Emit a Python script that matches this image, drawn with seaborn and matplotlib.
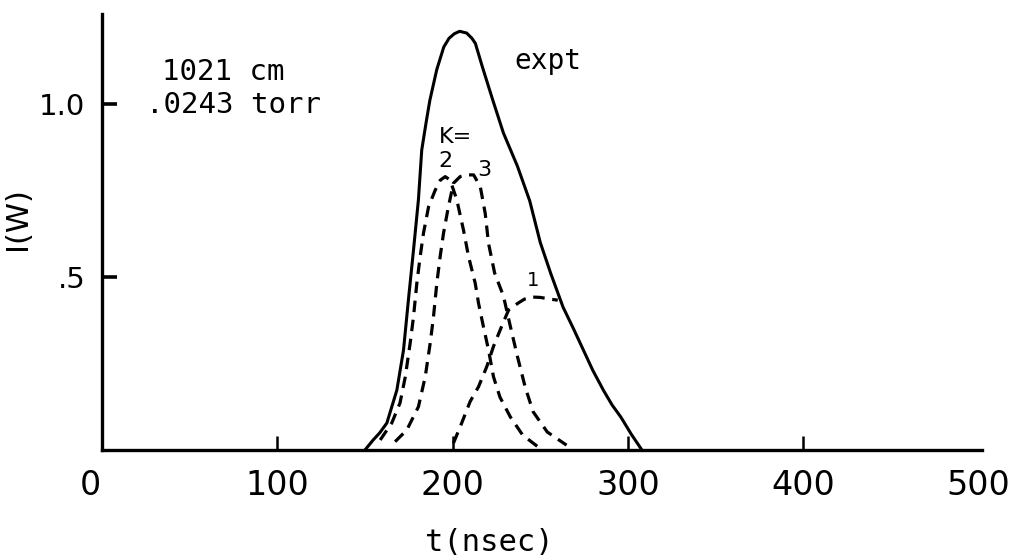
import numpy as np
import pandas as pd
import matplotlib
matplotlib.use("Agg")
import matplotlib.pyplot as plt
import matplotlib.transforms as mtransforms
import seaborn as sns

# ---- data ----
expt_t = [150, 154.7, 158.5, 162.5, 168.2, 172, 174.8, 177.7, 180.5, 182.4, 185,
          187, 191, 195, 198, 201, 204, 208, 211, 213, 217, 223, 229, 237, 244,
          250, 256, 263, 269, 274.5, 280, 286, 291, 296, 302, 308]
expt_I = [0.0, 0.029, 0.05, 0.078, 0.173, 0.289, 0.434, 0.578, 0.723, 0.867,
          0.95, 1.01, 1.10, 1.165, 1.19, 1.203, 1.21, 1.205, 1.19, 1.175, 1.107,
          1.01, 0.916, 0.82, 0.72, 0.60, 0.51, 0.413, 0.35, 0.29, 0.23, 0.173,
          0.13, 0.095, 0.045, 0.0]

k2_t = [158.7, 165.3, 170, 173, 175.8, 177.7, 179.6, 181.5, 183.4, 186.3, 190,
        193, 195.8, 198.6, 202.4, 206.2, 209.1, 212.9, 214.8, 217.6, 220.5,
        223.3, 227, 233, 240, 249]
k2_I = [0.029, 0.078, 0.136, 0.211, 0.309, 0.385, 0.482, 0.559, 0.627, 0.703,
        0.75, 0.78, 0.79, 0.78, 0.723, 0.636, 0.559, 0.482, 0.424, 0.356, 0.289,
        0.212, 0.153, 0.095, 0.043, 0.008]

k3_t = [167.2, 173.9, 180.5, 184.4, 187.2, 189.1, 191, 192.9, 194.8, 197.6,
        200.5, 204.3, 208, 212, 215.8, 218.6, 220.5, 224, 229, 233, 237, 241.5,
        246, 254, 265]
k3_I = [0.024, 0.058, 0.125, 0.212, 0.308, 0.385, 0.482, 0.559, 0.626, 0.703,
        0.771, 0.79, 0.795, 0.795, 0.761, 0.684, 0.597, 0.511, 0.445, 0.356,
        0.27, 0.18, 0.11, 0.052, 0.014]

k1_t = [200.5, 205.2, 210, 214.8, 219.5, 223.3, 229, 232, 237.5, 241, 245.4,
        250, 255.7, 260]
k1_I = [0.02, 0.078, 0.14, 0.183, 0.241, 0.299, 0.37, 0.405, 0.425, 0.436,
        0.442, 0.441, 0.436, 0.433]

x_ticks = [0, 100, 200, 300, 400, 500]
x_ticklabels = ["0", "100", "200", "300", "400", "500"]
x_marks = [100, 200, 300, 400]
y_ticks = [0.5, 1.0]
y_ticklabels = [".5", "1.0"]

# ---- plot ----
sns.set_style("white")
plt.rcParams["font.family"] = ["DejaVu Sans"]
plt.rcParams["text.color"] = "black"
plt.rcParams["axes.labelcolor"] = "black"
plt.rcParams["xtick.color"] = "black"
plt.rcParams["ytick.color"] = "black"

MONO = ["DejaVu Sans Mono"]

fig = plt.figure(figsize=(10.2, 5.56), dpi=100)
ax = fig.add_axes([0.1, 1 - 450 / 556, 880 / 1020, 436 / 556])

sns.lineplot(x=expt_t, y=expt_I, ax=ax, color="black", lw=2.2, sort=False)
dash = (0, (3.6, 2.4))
for t, I in [(k2_t, k2_I), (k3_t, k3_I), (k1_t, k1_I)]:
    sns.lineplot(x=t, y=I, ax=ax, color="black", lw=2.3, sort=False,
                 linestyle=dash)

ax.set_xlim(0, 502)
ax.set_ylim(0, 1.26)

for side in ["top", "right"]:
    ax.spines[side].set_visible(False)
for side in ["left", "bottom"]:
    ax.spines[side].set_linewidth(2.4)
    ax.spines[side].set_color("black")

ax.xaxis.remove_overlapping_locs = False
ax.set_xticks(x_ticks)
ax.set_xticklabels(x_ticklabels, fontsize=24)
ax.set_yticks(y_ticks)
ax.set_yticklabels(y_ticklabels, fontsize=21)
ax.set_xticks(x_marks, minor=True)
ax.tick_params(bottom=True, left=True, which="both")
ax.tick_params(axis="x", which="major", length=0, pad=14)
ax.tick_params(axis="y", which="major", direction="in", length=11, width=2.6, pad=12)
ax.tick_params(axis="x", which="minor", direction="in", length=10, width=1.8)

# shift the "0" label a bit left like the hand lettering
lbl0 = ax.get_xticklabels()[0]
lbl0.set_transform(lbl0.get_transform() +
                   mtransforms.ScaledTranslation(-0.12, 0, fig.dpi_scale_trans))

ax.set_xlabel("t(nsec)", fontsize=22, family=MONO)
ax.xaxis.set_label_coords(0.44, -0.18)
ax.set_ylabel("I(W)", fontsize=22)
ax.yaxis.set_label_coords(-0.08, 0.53)

ax.text(34, 1.092, "1021 cm", fontsize=21, ha="left", va="center", family=MONO)
ax.text(25, 0.997, ".0243 torr", fontsize=21, ha="left", va="center", family=MONO)
ax.text(235, 1.125, "expt", fontsize=20, ha="left", va="center", family=MONO)
ax.text(192, 0.905, "K=", fontsize=16, ha="left", va="center")
ax.text(192, 0.835, "2", fontsize=16, ha="left", va="center")
ax.text(214, 0.81, "3", fontsize=16, ha="left", va="center")
ax.text(246, 0.49, "1", fontsize=14, ha="center", va="center")

ax.grid(False)
fig.savefig("out.png", dpi=100, facecolor="white")
